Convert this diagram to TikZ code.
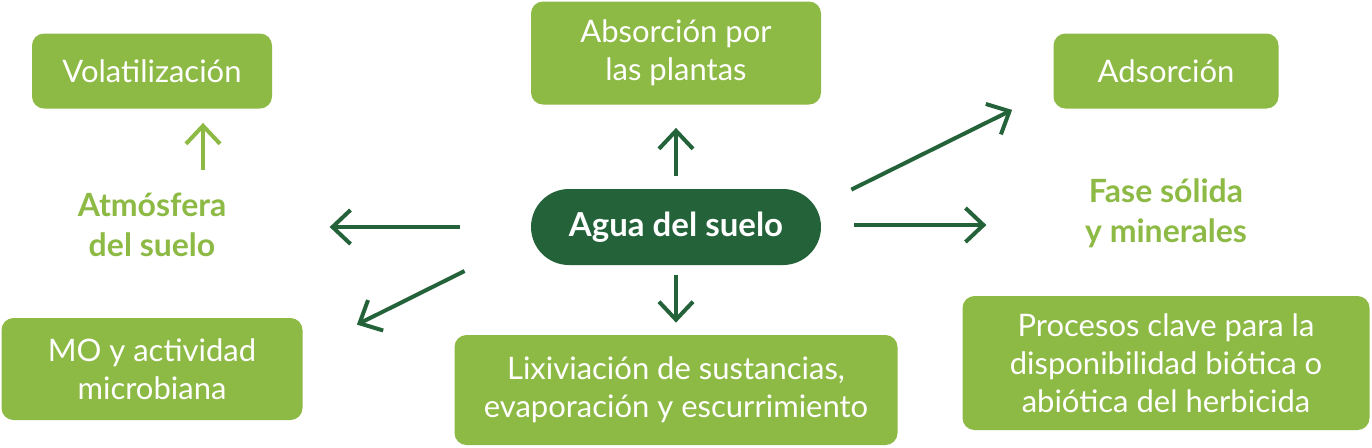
\documentclass[tikz,border=0pt]{standalone}
\usepackage{fontspec}
\setmainfont{Lato}
\usepackage{xcolor}
\usetikzlibrary{arrows.meta}
\definecolor{hojaverde}{RGB}{141,185,69}
\definecolor{verdeosc}{RGB}{36,99,58}
\tikzset{
  caja/.style={fill=hojaverde, text=white, rounded corners=6pt, align=center,
    font=\fontsize{15.5}{19}\selectfont, inner sep=0pt},
  centro/.style={fill=verdeosc, text=white, rounded corners=19pt, align=center,
    font=\fontsize{16.5}{19}\selectfont\bfseries, inner sep=0pt,
    minimum width=145pt, minimum height=38pt},
  etiqueta/.style={text=hojaverde, align=center, inner sep=0pt,
    font=\fontsize{16}{20}\selectfont\bfseries},
  flecha/.style={draw=verdeosc, line width=2pt,
    -{Straight Barb[length=9pt,width=17pt,line width=2pt]}},
  flechaclara/.style={flecha, draw=hojaverde}
}
\begin{document}
\begin{tikzpicture}[x=0.5pt,y=-0.5pt]
            \useasboundingbox (0,0) rectangle (1372,447);
            % cajas
            \node[caja, minimum width=120pt, minimum height=37.5pt] (volat) at (152,71) {Volatilizaci\'on};
            \node[caja, minimum width=145pt, minimum height=51.5pt] (absor) at (676,53) {Absorci\'on por\\las plantas};
            \node[caja, minimum width=112.5pt, minimum height=37.5pt] (adsor) at (1166,71) {Adsorci\'on};
            \node[centro] (agua) at (676,227) {Agua del suelo};
            \node[etiqueta] (atmos) at (152,225) {Atm\'osfera\\del suelo};
            \node[etiqueta] (fase) at (1166,213) {Fase s\'olida\\y minerales};
            \node[caja, minimum width=150.5pt, minimum height=51pt] (mo) at (152,369) {MO y actividad\\microbiana};
            \node[caja, minimum width=221.5pt, minimum height=55pt] (lixiv) at (676,390) {Lixiviaci\'on de sustancias,\\evaporaci\'on y escurrimiento};
            \node[caja, minimum width=203.5pt, minimum height=67pt] (proce) at (1166,363) {Procesos clave para la\\disponibilidad bi\'otica o\\abi\'otica del herbicida};
            % flechas
            \draw[flechaclara] ([shift={(51,61)}]volat.south) -- ([shift={(51,14)}]volat.south);
            \draw[flecha] ([shift={(0,-13)}]agua.north) -- ([shift={(0,23)}]absor.south);
            \draw[flecha] ([shift={(-71,0)}]agua.west) -- ([shift={(-201,0)}]agua.west);
            \draw[flecha] ([shift={(-66,44)}]agua.west) -- ([shift={(54,7)}]mo.north east);
            \draw[flecha] ([shift={(0,10)}]agua.south) -- ([shift={(0,-12)}]lixiv.north);
            \draw[flecha] ([shift={(30,1)}]agua.north east) -- ([shift={(-41,1)}]adsor.south west);
            \draw[flecha] ([shift={(33,-2)}]agua.east) -- ([shift={(165,-2)}]agua.east);
\end{tikzpicture}
\end{document}
